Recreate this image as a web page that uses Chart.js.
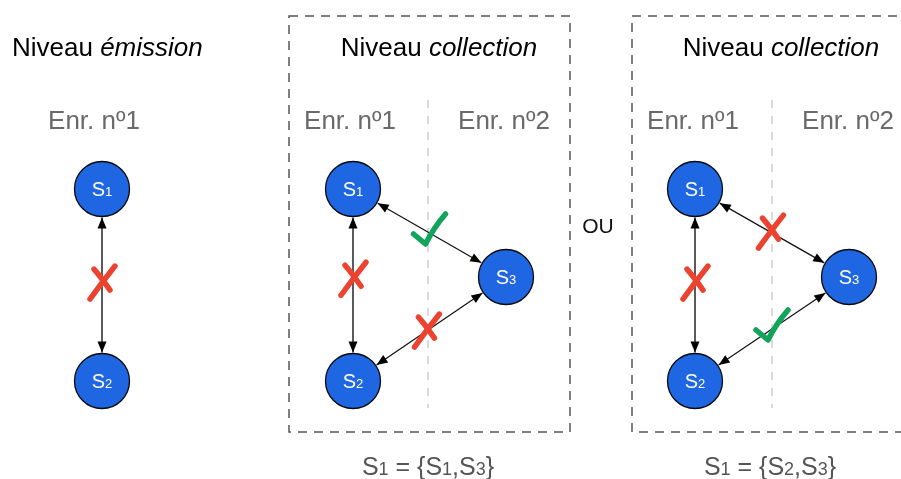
<!DOCTYPE html>
<html>
<head>
<meta charset="utf-8">
<script src="https://cdn.jsdelivr.net/npm/chart.js@4"></script>
<style>
  html, body { margin: 0; padding: 0; background: #fff; }
  #wrap { width: 901px; height: 479px; }
</style>
</head>
<body>
<div id="wrap"><canvas id="diagram" width="901" height="479"></canvas></div>
<script>
// noeuds (sources) : étiquette, position dans le repère du schéma
const nodeLabels = ['S1', 'S2', 'S1', 'S2', 'S3', 'S1', 'S2', 'S3'];
const nodeX = [102, 102, 353, 353, 506, 695, 695, 849];
const nodeY = [189, 381, 189, 381, 277, 189, 381, 277];

// liens (paires d'indices de noeuds) et leur marque
const edges = [[0, 1], [2, 3], [2, 4], [3, 4], [5, 6], [5, 7], [6, 7]];
const edgeMarks = ['cross', 'cross', 'check', 'cross', 'cross', 'cross', 'check'];
const markT = [0.49, 0.47, 0.5, 0.48, 0.49, 0.49, 0.5];

// textes
const panelTitles = [['Niveau ', 'émission'], ['Niveau ', 'collection'], ['Niveau ', 'collection']];
const recordLabels = ['Enr. nº1', 'Enr. nº1', 'Enr. nº2', 'Enr. nº1', 'Enr. nº2'];
const resultLabels = [['S', '1', ' = {', 'S', '1', ',', 'S', '3', '}'], ['S', '1', ' = {', 'S', '2', ',', 'S', '3', '}']];
const separatorLabel = 'OU';

const R = 27.5;          // rayon des noeuds
const FONT = '"Liberation Sans", Arial, sans-serif';

// segments raccourcis pour que les flèches touchent le bord des cercles
function edgeEnds(e) {
  const [a, b] = e;
  const dx = nodeX[b] - nodeX[a], dy = nodeY[b] - nodeY[a];
  const len = Math.hypot(dx, dy);
  const ux = dx / len, uy = dy / len;
  return [
    { x: nodeX[a] + ux * (R + 1), y: nodeY[a] + uy * (R + 1) },
    { x: nodeX[b] - ux * (R + 1), y: nodeY[b] - uy * (R + 1) }
  ];
}

const edgeDatasets = edges.map((e, i) => ({
  type: 'scatter',
  label: 'lien ' + i,
  data: edgeEnds(e),
  showLine: true,
  borderColor: nodeX[e[0]] === nodeX[e[1]] ? '#333' : '#111',
  borderWidth: nodeX[e[0]] === nodeX[e[1]] ? 1.6 : 1.2,
  pointRadius: 0,
  clip: false,
  order: 2
}));

const nodeDataset = {
  type: 'scatter',
  label: 'sources',
  data: nodeX.map((x, i) => ({ x: x, y: nodeY[i] })),
  pointRadius: R,
  pointHoverRadius: R,
  backgroundColor: '#1f66e2',
  borderColor: '#0a0a0a',
  borderWidth: 1.3,
  clip: false,
  order: 0
};

function richText(ctx, parts, x, y, align) {
  let w = 0;
  parts.forEach(p => { ctx.font = p.font; w += ctx.measureText(p.t).width; });
  let cx = align === 'left' ? x : x - w / 2;
  ctx.textAlign = 'left';
  ctx.textBaseline = 'alphabetic';
  parts.forEach(p => {
    ctx.font = p.font;
    ctx.fillStyle = p.color;
    ctx.fillText(p.t, cx, y);
    cx += ctx.measureText(p.t).width;
  });
}

const decorPlugin = {
  id: 'decor',
  beforeDatasetsDraw(chart) {
    const { ctx, scales: { x, y } } = chart;
    const px = v => x.getPixelForValue(v), py = v => y.getPixelForValue(v);
    ctx.save();
    // cadres pointillés des niveaux collection
    ctx.strokeStyle = '#555';
    ctx.lineWidth = 1.5;
    ctx.setLineDash([9, 7]);
    [[289, 16, 570, 432], [632, 16, 912, 432]].forEach(b => {
      ctx.strokeRect(px(b[0]), py(b[1]), px(b[2]) - px(b[0]), py(b[3]) - py(b[1]));
    });
    // séparateurs entre enregistrements
    ctx.strokeStyle = '#c4c4c4';
    ctx.lineWidth = 1.2;
    ctx.setLineDash([8, 8]);
    [428, 772].forEach(v => {
      ctx.beginPath();
      ctx.moveTo(px(v), py(100));
      ctx.lineTo(px(v), py(408));
      ctx.stroke();
    });
    ctx.restore();
  },
  afterDatasetsDraw(chart) {
    const { ctx, scales: { x, y } } = chart;
    const px = v => x.getPixelForValue(v), py = v => y.getPixelForValue(v);
    ctx.save();

    // pointes de flèches aux deux bouts
    edges.forEach((e, i) => {
      const [p0, p1] = edgeEnds(e);
      const a = { x: px(p0.x), y: py(p0.y) }, b = { x: px(p1.x), y: py(p1.y) };
      [[a, b], [b, a]].forEach(([tip, from]) => {
        const ang = Math.atan2(tip.y - from.y, tip.x - from.x);
        ctx.save();
        ctx.translate(tip.x, tip.y);
        ctx.rotate(ang);
        ctx.fillStyle = '#000';
        ctx.beginPath();
        ctx.moveTo(0, 0);
        ctx.lineTo(-11, -4.5);
        ctx.lineTo(-11, 4.5);
        ctx.closePath();
        ctx.fill();
        ctx.restore();
      });
    });

    // croix rouges et coches vertes
    edges.forEach((e, i) => {
      const [a, b] = e;
      const mx = px(nodeX[a] + (nodeX[b] - nodeX[a]) * markT[i]);
      const my = py(nodeY[a] + (nodeY[b] - nodeY[a]) * markT[i]);
      ctx.lineCap = 'round';
      ctx.lineJoin = 'round';
      ctx.lineWidth = 5.5;
      if (edgeMarks[i] === 'cross') {
        ctx.strokeStyle = '#ec4330';
        ctx.beginPath();
        ctx.moveTo(mx + 13, my - 17);
        ctx.quadraticCurveTo(mx + 1, my - 2, mx - 12, my + 16);
        ctx.stroke();
        ctx.beginPath();
        ctx.moveTo(mx - 8, my - 14);
        ctx.quadraticCurveTo(mx - 1, my - 6, mx + 8, my + 7);
        ctx.stroke();
      } else {
        ctx.strokeStyle = '#12a45a';
        const bx = mx - 4, by = my + 11;
        ctx.beginPath();
        ctx.moveTo(bx - 12, by - 10);
        ctx.lineTo(bx, by);
        ctx.quadraticCurveTo(bx + 8, by - 16, bx + 20, by - 30);
        ctx.stroke();
      }
    });

    // étiquettes des noeuds
    nodeLabels.forEach((lab, i) => {
      richText(ctx, [
        { t: lab[0], font: '20px ' + FONT, color: '#fff' },
        { t: lab.slice(1), font: '13px ' + FONT, color: '#fff' }
      ], px(nodeX[i]), py(nodeY[i]) + 7, 'center');
    });

    // titres des niveaux
    const titlePos = [[12, 'left'], [439, 'center'], [781, 'center']];
    panelTitles.forEach((t, i) => {
      richText(ctx, [
        { t: t[0], font: '26px ' + FONT, color: '#000' },
        { t: t[1], font: 'italic 26px ' + FONT, color: '#000' }
      ], px(titlePos[i][0]), py(56), titlePos[i][1]);
    });

    // enregistrements
    const recX = [94, 350, 504, 693, 848];
    recordLabels.forEach((t, i) => {
      richText(ctx, [{ t: t, font: '26px ' + FONT, color: '#6a6a6a' }], px(recX[i]), py(129), 'center');
    });

    // OU
    richText(ctx, [{ t: separatorLabel, font: '21px ' + FONT, color: '#111' }], px(598), py(233), 'center');

    // résultats
    const resX = [428, 770];
    resultLabels.forEach((parts, i) => {
      richText(ctx, parts.map(t => ({
        t: t,
        font: (/^\d$/.test(t) ? '18px ' : '25px ') + FONT,
        color: '#555'
      })), px(resX[i]), py(475), 'center');
    });

    ctx.restore();
  }
};

new Chart(document.getElementById('diagram'), {
  type: 'scatter',
  data: { datasets: [nodeDataset].concat(edgeDatasets) },
  options: {
    responsive: false,
    animation: false,
    layout: { padding: 0, autoPadding: false },
    events: [],
    scales: {
      x: { type: 'linear', min: 0, max: 901, display: false },
      y: { type: 'linear', min: 0, max: 479, reverse: true, display: false }
    },
    plugins: {
      legend: { display: false },
      tooltip: { enabled: false }
    }
  },
  plugins: [decorPlugin]
});
</script>
</body>
</html>
